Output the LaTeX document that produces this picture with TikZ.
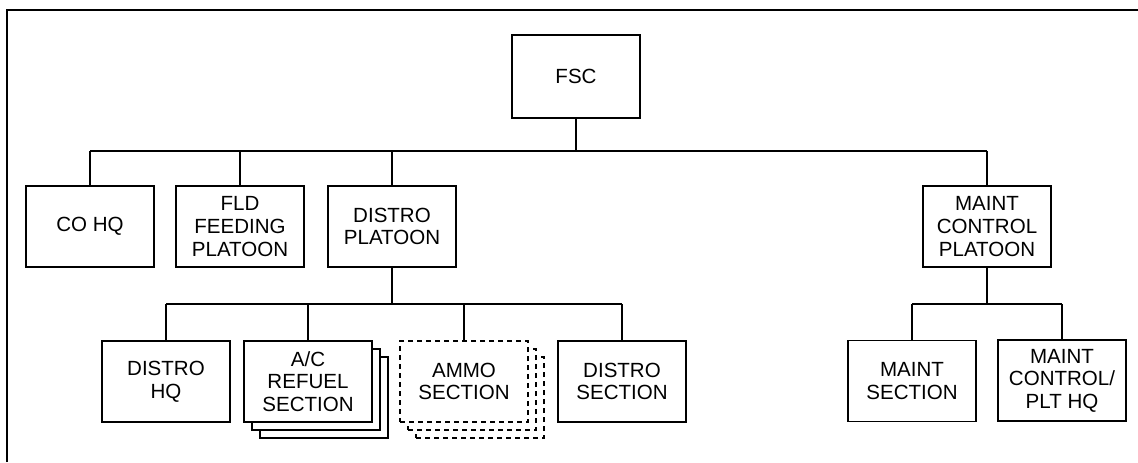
\documentclass[tikz,border=0pt]{standalone}
\usepackage{fontspec}
\setmainfont{Liberation Sans}
\begin{document}
\begin{tikzpicture}[x=0.75pt,y=-0.75pt,
  orgbox/.style={draw=black,line width=1.4pt,fill=white,minimum width=96pt,minimum height=60.75pt,inner sep=0pt,align=center,font=\fontsize{15.4pt}{16.9pt}\selectfont},
  dashbox/.style={orgbox,dash pattern=on 3.75pt off 3pt},
  conn/.style={line width=1.2pt},
  frameline/.style={line width=1.6pt}]
\useasboundingbox (0,0) rectangle (1138,462);
\draw[frameline] (7,462) -- (7,10) -- (1138,10);
% top level
\node[orgbox,minimum height=62.25pt] (fsc) at (576,76.5) {FSC};
\coordinate (bus1) at (576,151);
% level 1
\node[orgbox] (cohq) at (90,226.5) {CO HQ};
\node[orgbox] (fld) at (240,226.5) {FLD\\FEEDING\\PLATOON};
\node[orgbox] (dp) at (392,226.5) {DISTRO\\PLATOON};
\node[orgbox] (mcp) at (987,226.5) {MAINT\\CONTROL\\PLATOON};
% level 2 under distro
\coordinate (bus2) at (392,304);
\node[orgbox] (dhq) at (166,381.5) {DISTRO\\HQ};
\node[orgbox] (ac3) at (324,397.5) {};
\node[orgbox] (ac2) at (316,389.5) {};
\node[orgbox] (ac) at (308,381.5) {A/C\\REFUEL\\SECTION};
\node[dashbox] (am3) at (480,397.5) {};
\node[dashbox] (am2) at (472,389.5) {};
\node[dashbox] (am) at (464,381.5) {AMMO\\SECTION};
\node[orgbox] (ds) at (622,381.5) {DISTRO\\SECTION};
% level 2 under maint
\coordinate (bus3) at (987,304);
\node[orgbox] (ms) at (912,381) {MAINT\\SECTION};
\node[orgbox] (mhq) at (1062,380.5) {MAINT\\CONTROL/\\PLT HQ};
% connectors
\draw[conn] (fsc.south) -- (bus1);
\draw[conn] (cohq.north |- bus1) -- (mcp.north |- bus1);
\foreach \n in {cohq,fld,dp,mcp} \draw[conn] (\n.north) -- (\n.north |- bus1);
\draw[conn] (dp.south) -- (bus2);
\draw[conn] (dhq.north |- bus2) -- (ds.north |- bus2);
\foreach \n in {dhq,ac,am,ds} \draw[conn] (\n.north) -- (\n.north |- bus2);
\draw[conn] (mcp.south) -- (bus3);
\draw[conn] (ms.north |- bus3) -- (mhq.north |- bus3);
\foreach \n in {ms,mhq} \draw[conn] (\n.north) -- (\n.north |- bus3);
\end{tikzpicture}
\end{document}
